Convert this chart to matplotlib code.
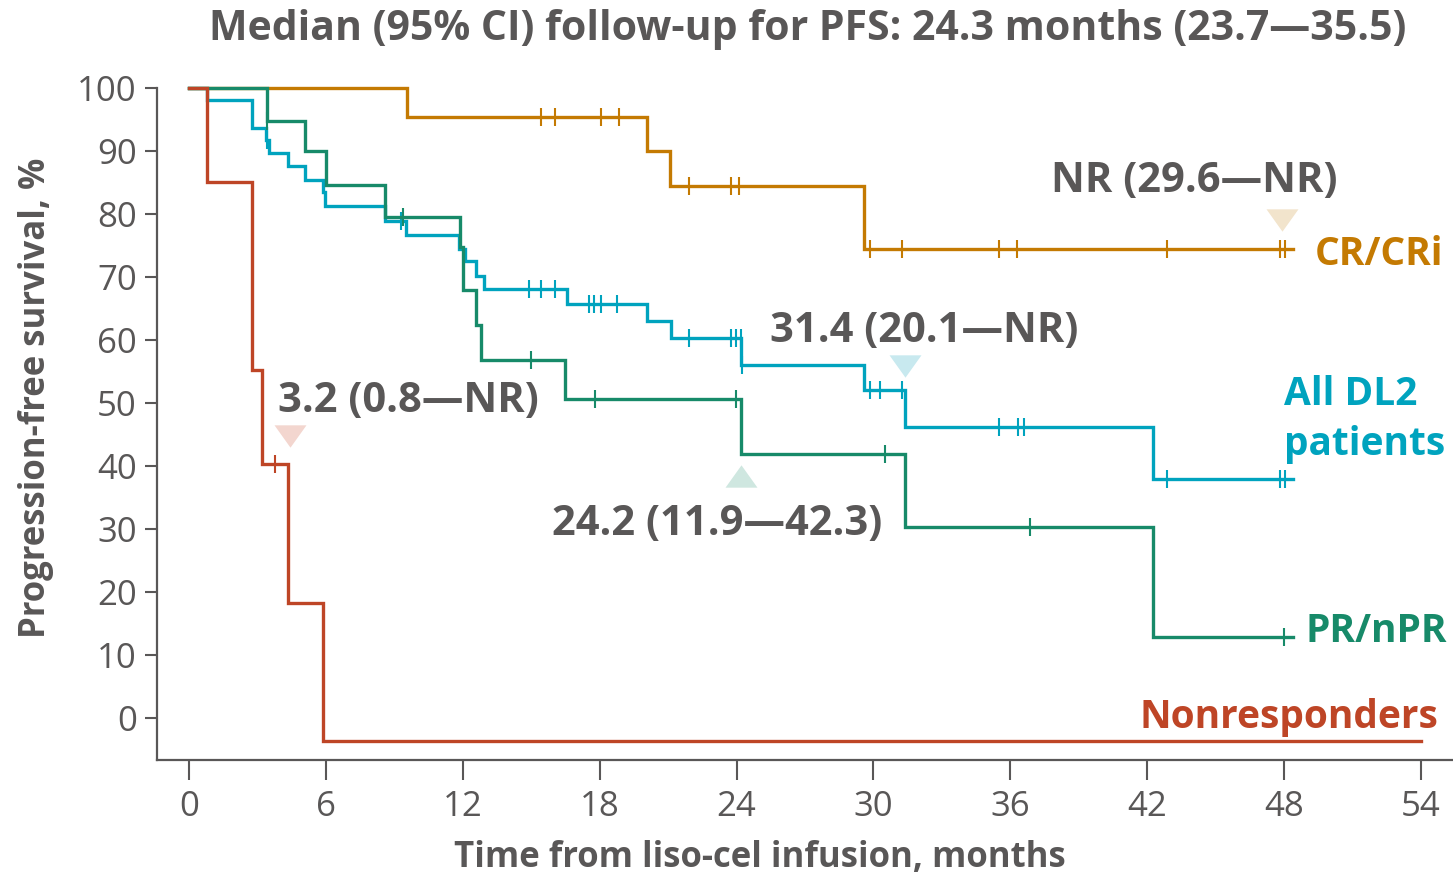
import numpy as np
import matplotlib
matplotlib.use("Agg")
import matplotlib.pyplot as plt

# ---------------- data ----------------
# CR/CRi
cr_times = [0, 9.55, 20.06, 21.07, 29.57]
cr_surv = [100, 95.4, 90.0, 84.4, 74.4]
cr_end = 48.4
cr_cens = [15.42, 16.03, 18.05, 18.83, 21.9, 23.74, 24.09,
           29.87, 31.27, 35.5, 36.3, 42.85, 47.83, 48.05]

# All DL2 patients
all_times = [0, 0.77, 2.77, 3.37, 3.5, 4.35, 5.08, 5.88, 5.96, 8.58, 9.5,
             11.84, 12.09, 12.57, 12.92, 16.56, 20.06, 21.14, 24.21, 29.57,
             31.4, 42.27]
all_surv = [100, 98.1, 93.7, 91.7, 89.7, 87.6, 85.4, 83.5, 81.2, 78.9, 76.7,
            74.4, 72.6, 70.2, 68.1, 65.7, 63.0, 60.3, 56.0, 52.1,
            46.2, 38.0]
all_end = 48.4
all_cens = [3.4, 9.31, 14.89, 15.42, 16.03, 17.52, 17.74, 18.05, 18.75,
            21.9, 23.74, 23.96, 24.2, 24.25, 29.87, 30.3, 31.27,
            35.5, 36.35, 36.6, 42.85, 47.83, 48.05]

# PR/nPR
pr_times = [0, 3.4, 5.08, 5.99, 8.58, 11.87, 12.02, 12.6, 12.82, 16.47,
            24.2, 31.4, 42.27]
pr_surv = [100, 94.8, 90.0, 84.6, 79.6, 74.8, 68.0, 62.4, 56.9, 50.7,
           41.9, 30.3, 12.9]
pr_end = 48.4
pr_cens = [3.4, 9.36, 14.97, 17.78, 23.99, 30.49, 36.88, 48.0]

# Nonresponders
nr_times = [0, 0.77, 2.78, 3.21, 4.35, 5.88]
nr_surv = [100, 85.0, 55.2, 40.3, 18.3, 0]
nr_end = 54
nr_cens = [3.77]

x_ticks = [0, 6, 12, 18, 24, 30, 36, 42, 48, 54]
y_ticks = [0, 10, 20, 30, 40, 50, 60, 70, 80, 90, 100]

title = "Median (95% CI) follow-up for PFS: 24.3 months (23.7\u201435.5)"
xlabel = "Time from liso-cel infusion, months"
ylabel = "Progression-free survival, %"

# ---------------- style ----------------
GRAY = "#595757"
C_CR = "#C47A02"
C_ALL = "#00A3BE"
C_PR = "#178A69"
C_NR = "#BE4526"
P_CR = "#F2E4CC"
P_ALL = "#C8E9EF"
P_PR = "#CFE7E0"
P_NR = "#F3D6CF"
ZERO_DRAW = -3.6  # 0% level drawn slightly below the axis zero

plt.rcParams["font.family"] = ["Open Sans", "DejaVu Sans"]

W, H = 1453, 877
fig = plt.figure(figsize=(W / 100, H / 100), dpi=100)
ax = fig.add_axes([157 / W, 1 - 760 / H, 1296 / W, (760 - 75.4) / H])
ax.set_xlim(-1.4, 55.4)
ax.set_ylim(-6.67, 102)

LW = 2.4


def km(times, surv, end, cens, color, z):
    t = np.array(list(times) + [end], dtype=float)
    s = np.array(list(surv) + [surv[-1]], dtype=float)
    s_draw = np.where(s == 0, ZERO_DRAW, s)
    ax.step(t, s_draw, where="post", color=color, lw=LW, zorder=z,
            solid_joinstyle="miter", clip_on=False)
    c = np.array(cens, dtype=float)
    idx = np.searchsorted(np.array(times, dtype=float), c, side="right") - 1
    cy = np.array(surv, dtype=float)[idx]
    cy = np.where(cy == 0, ZERO_DRAW, cy)
    ax.plot(c, cy, linestyle="none", marker="|", ms=13.5, mew=1.5,
            color=color, zorder=z, clip_on=False)


km(cr_times, cr_surv, cr_end, cr_cens, C_CR, 3)
km(all_times, all_surv, all_end, all_cens, C_ALL, 4)
km(pr_times, pr_surv, pr_end, pr_cens, C_PR, 5)
km(nr_times, nr_surv, nr_end, nr_cens, C_NR, 6)

# median triangles
down = [(-1, 0.7), (1, 0.7), (0, -0.7)]
up = [(-1, -0.7), (1, -0.7), (0, 0.7)]
for (x, y, verts, col) in [(4.42, 44.7, down, P_NR), (24.2, 38.4, up, P_PR),
                           (31.4, 55.9, down, P_ALL), (47.92, 79.1, down, P_CR)]:
    ax.plot([x], [y], marker=verts, ms=23, color=col, mec="none",
            linestyle="none", zorder=2, clip_on=False)

# median annotations
ann_kw = dict(fontsize=30, fontweight="bold", color=GRAY, ha="left",
              va="baseline", zorder=7)
ax.text(3.9, 48.57, "3.2 (0.8\u2014NR)", **ann_kw)
ax.text(15.9, 29.05, "24.2 (11.9\u201442.3)", **ann_kw)
ax.text(25.45, 59.7, "31.4 (20.1\u2014NR)", **ann_kw)
ax.text(37.8, 83.5, "NR (29.6\u2014NR)", **ann_kw)

# series labels
lab_kw = dict(fontsize=28, fontweight="bold", ha="left", va="baseline",
              zorder=7, clip_on=False)
ax.text(49.32, 71.9, "CR/CRi", color=C_CR, **lab_kw)
ax.text(48.0, 49.7, "All DL2", color=C_ALL, **lab_kw)
ax.text(48.0, 41.75, "patients", color=C_ALL, **lab_kw)
ax.text(48.93, 12.06, "PR/nPR", color=C_PR, **lab_kw)
ax.text(41.66, -1.59, "Nonresponders", color=C_NR, **lab_kw)

# axes styling
for sp in ["top", "right"]:
    ax.spines[sp].set_visible(False)
for sp in ["left", "bottom"]:
    ax.spines[sp].set_color(GRAY)
    ax.spines[sp].set_linewidth(1.6)
ax.spines["left"].set_bounds(-6.67, 100)

ax.set_xticks(x_ticks)
ax.set_xticklabels([str(v) for v in x_ticks])
ax.set_yticks(y_ticks)
ax.set_yticklabels([str(v) for v in y_ticks])
ax.tick_params(axis="x", direction="out", length=14.5, width=1.5, colors=GRAY,
               labelsize=25, pad=7, labelcolor=GRAY)
ax.tick_params(axis="y", direction="out", length=8.5, width=1.5, colors=GRAY,
               labelsize=25, pad=6, labelcolor=GRAY)

ax.set_xlabel(xlabel, fontsize=25, color=GRAY, fontweight="bold")
ax.xaxis.set_label_coords((760 - 157) / 1296, (760 - 858) / 684.6)
ax.xaxis.label.set_va("center")
ax.set_ylabel(ylabel, fontsize=25, color=GRAY, fontweight="bold")
ax.yaxis.set_label_coords((36 - 157) / 1296, (760 - 398) / 684.6)
ax.yaxis.label.set_va("center")

fig.text(808 / W, 1 - 29 / H, title, fontsize=29.5, fontweight="bold",
         color=GRAY, ha="center", va="center")

fig.savefig("out.png", dpi=100)
